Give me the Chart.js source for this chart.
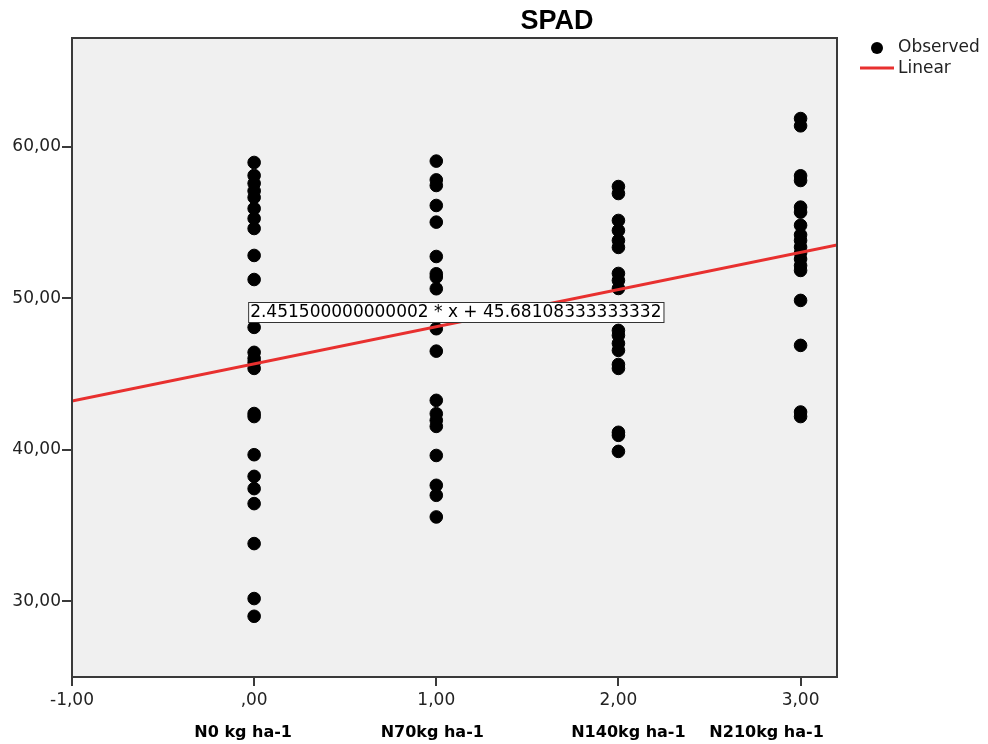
<!DOCTYPE html>
<html>
<head>
<meta charset="utf-8">
<script src="https://cdn.jsdelivr.net/npm/chart.js@4"></script>
<style>
html,body{margin:0;padding:0;background:#fff;}
#wrap{width:988px;height:744px;position:relative;}
</style>
</head>
<body>
<div id="wrap"><canvas id="c" width="988" height="744"></canvas></div>
<script>
// ---- data ----
const chartTitle = 'SPAD';
const groupX = [0, 1, 2, 3];
const categoryLabels = ['N0 kg ha-1', 'N70kg ha-1', 'N140kg ha-1', 'N210kg ha-1'];
const spadN0 = [58.98, 58.12, 57.6, 57.1, 56.67, 55.94, 55.28, 54.62, 52.84, 51.25, 48.09, 46.44, 46.04, 45.77, 45.38, 42.4, 42.2, 39.68, 38.25, 37.44, 36.45, 33.81, 30.18, 29.01];
const spadN70 = [59.07, 57.83, 57.46, 56.14, 55.04, 52.77, 51.63, 51.41, 50.64, 48.0, 46.52, 43.27, 42.39, 41.95, 41.55, 39.63, 37.66, 37.0, 35.57];
const spadN140 = [57.39, 56.93, 55.15, 54.49, 53.83, 53.37, 51.65, 51.19, 50.66, 47.89, 47.56, 47.03, 46.57, 45.64, 45.38, 41.16, 40.96, 39.9];
const spadN210 = [61.88, 61.4, 58.1, 57.79, 56.03, 55.7, 54.83, 54.2, 53.83, 53.39, 53.0, 52.6, 52.17, 51.85, 49.87, 46.9, 42.5, 42.2];
const fitSlope = 2.451500000000002;
const fitIntercept = 45.68108333333332;
const fitLabel = '2.451500000000002 * x + 45.68108333333332';
const xTicks = [-1, 0, 1, 2, 3];
const xTickLabels = ['-1,00', ',00', '1,00', '2,00', '3,00'];
const yTicks = [30, 40, 50, 60];
const yTickLabels = ['30,00', '40,00', '50,00', '60,00'];
const xMin = -1, xMax = 3.2, yMin = 25, yMax = 67.2;

// ---- build datasets ----
const groups = [spadN0, spadN70, spadN140, spadN210];
const observed = [];
groups.forEach((vals, i) => vals.forEach(v => observed.push({x: groupX[i], y: v})));
const linear = [xMin, xMax].map(x => ({x: x, y: fitSlope * x + fitIntercept}));

const FONT = '"DejaVu Sans", Verdana, sans-serif';

const framePlugin = {
  id: 'frame',
  beforeDraw(chart) {
    const {ctx, chartArea: a} = chart;
    ctx.save();
    ctx.fillStyle = '#f0f0f0';
    ctx.fillRect(a.left, a.top, a.right - a.left, a.bottom - a.top);
    ctx.restore();
  },
  afterDraw(chart) {
    const {ctx, chartArea: a, scales} = chart;
    ctx.save();
    // frame
    ctx.strokeStyle = '#3a3a3a';
    ctx.lineWidth = 2;
    ctx.strokeRect(a.left, a.top, a.right - a.left, a.bottom - a.top);
    // title
    ctx.fillStyle = '#000';
    ctx.font = 'bold 27px "Liberation Sans", Arial, sans-serif';
    ctx.textAlign = 'center';
    ctx.textBaseline = 'alphabetic';
    ctx.fillText(chartTitle, 557, 29);
    // category labels
    ctx.font = 'bold 16px ' + FONT;
    const catOffsets = [-11, -4, 10, -34];
    categoryLabels.forEach((lab, i) => {
      const px = scales.x.getPixelForValue(groupX[i]) + catOffsets[i];
      ctx.fillText(lab, px, 737);
    });
    // fit label box
    ctx.font = '17px ' + FONT;
    ctx.textAlign = 'left';
    ctx.textBaseline = 'middle';
    const bx = scales.x.getPixelForValue(0) - 6;
    const by = 302;
    const tw = ctx.measureText(fitLabel).width;
    ctx.fillStyle = '#fff';
    ctx.fillRect(bx, by, tw + 4, 20);
    ctx.strokeStyle = '#333';
    ctx.lineWidth = 1;
    ctx.strokeRect(bx + 0.5, by + 0.5, tw + 4, 20);
    ctx.fillStyle = '#000';
    ctx.fillText(fitLabel, bx + 2, by + 11);
    // legend
    ctx.fillStyle = '#000';
    ctx.beginPath();
    ctx.arc(877, 48, 6, 0, Math.PI * 2);
    ctx.fill();
    ctx.strokeStyle = '#e8302f';
    ctx.lineWidth = 3;
    ctx.beginPath();
    ctx.moveTo(860, 68);
    ctx.lineTo(894, 68);
    ctx.stroke();
    ctx.fillStyle = '#222';
    ctx.font = '17px ' + FONT;
    ctx.textAlign = 'left';
    ctx.fillText('Observed', 898, 48);
    ctx.fillText('Linear', 898, 69);
    ctx.restore();
  }
};

new Chart(document.getElementById('c'), {
  type: 'scatter',
  data: {
    datasets: [
      {label: 'Observed', data: observed, backgroundColor: '#000', borderColor: '#000', pointRadius: 6.3, pointHoverRadius: 6.3, order: 2},
      {label: 'Linear', type: 'line', data: linear, borderColor: '#e8302f', borderWidth: 3, pointRadius: 0, fill: false, order: 1}
    ]
  },
  options: {
    responsive: false,
    animation: false,
    events: [],
    layout: {padding: {left: 0, right: 151, top: 38, bottom: 0}},
    plugins: {legend: {display: false}, title: {display: false}, tooltip: {enabled: false}},
    scales: {
      x: {
        type: 'linear', min: xMin, max: xMax,
        afterFit(s) { s.height = 67; },
        afterBuildTicks(s) { s.ticks = xTicks.map(v => ({value: v})); },
        grid: {display: true, drawOnChartArea: false, drawTicks: true, tickLength: 9, color: '#3a3a3a', lineWidth: 2},
        border: {display: true, color: '#3a3a3a', width: 2},
        ticks: {
          color: '#222', font: {family: FONT, size: 17}, padding: 4, maxRotation: 0,
          callback: (v, i) => xTickLabels[i]
        }
      },
      y: {
        type: 'linear', min: yMin, max: yMax,
        afterFit(s) { s.width = 72; },
        afterBuildTicks(s) { s.ticks = yTicks.map(v => ({value: v})); },
        grid: {display: true, drawOnChartArea: false, drawTicks: true, tickLength: 10, color: '#3a3a3a', lineWidth: 2},
        border: {display: true, color: '#3a3a3a', width: 2},
        ticks: {
          color: '#222', font: {family: FONT, size: 17}, padding: 1,
          callback: (v, i) => yTickLabels[i]
        }
      }
    }
  },
  plugins: [framePlugin]
});
</script>
</body>
</html>
